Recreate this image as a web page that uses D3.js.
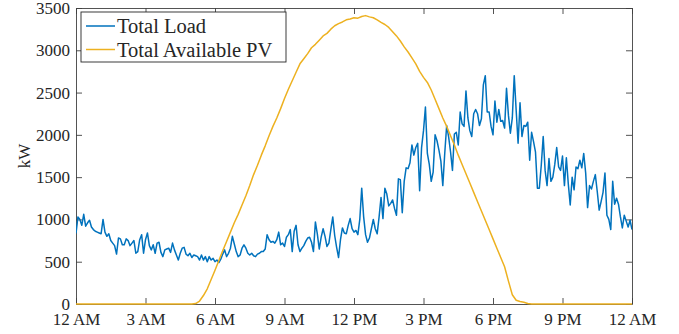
<!DOCTYPE html>
<html>
<head>
<meta charset="utf-8">
<script src="https://cdn.jsdelivr.net/npm/d3@7"></script>
<style>
  html, body { margin: 0; padding: 0; background: #fff; }
  svg { display: block; }
  text { font-family: "Liberation Serif", "Times New Roman", serif; fill: #262626; }
</style>
</head>
<body>
<svg id="chart" width="679" height="334"></svg>
<script>
// ---- data ----
// Total load, 5-minute samples from 00:00 to 24:00 (kW)
const loadStepMinutes = 5;
const totalLoad = [
  // 12 AM - 3 AM
  835,1030,1000,930,1060,920,960,990,910,880,860,850,840,830,1000,850,800,830,
  750,720,690,590,780,770,700,700,770,750,690,720,750,600,620,760,820,600,
  // 3 AM - 6 AM
  760,840,690,640,700,600,720,730,610,560,640,650,660,610,720,640,580,520,
  600,660,670,590,570,600,550,580,570,560,520,580,520,560,500,560,520,540,
  // 6 AM - 9 AM
  500,520,490,530,590,640,560,600,660,800,710,620,560,580,660,700,660,600,
  580,600,570,560,590,600,620,620,650,820,760,730,740,720,760,850,700,720,
  // 9 AM - 12 PM
  680,790,820,880,620,860,930,700,620,660,690,740,780,790,730,620,970,830,
  650,790,890,800,680,720,880,1030,810,670,550,760,900,840,830,930,1010,890,
  // 12 PM - 3 PM
  850,870,820,1000,1370,1030,820,730,780,890,1000,890,830,1030,1260,1010,1370,1300,
  1160,1190,1230,1130,1050,1480,1470,1080,1450,1610,1600,1670,1880,1760,1850,1900,1340,1850,
  // 3 PM - 6 PM
  2050,2330,1780,1650,1450,1560,2000,1930,1820,1690,1400,1780,2110,1980,1800,1580,2010,2030,
  1880,2270,2130,2100,2520,2200,2050,1980,2250,2300,2250,2110,2190,2590,2700,2270,2270,2100,
  // 6 PM - 9 PM
  2000,2400,2150,2300,2160,2170,2080,2550,2230,2020,2200,2700,2290,1900,2380,1980,2110,2100,
  2150,1700,2030,1920,1800,1370,1370,1640,1980,1580,1400,1720,1450,1500,1650,1850,1620,1580,
  // 9 PM - 12 AM
  1750,1400,1730,1420,1170,1500,1350,1620,1600,1700,1610,1780,1550,1140,1400,1360,1450,1530,
  1330,1110,1210,1320,1550,1050,1000,880,1450,1180,1250,1180,1030,900,1050,980,910,990,
  880
];
// Total available PV, 10-minute samples from 00:00 to 24:00 (kW)
const pvStepMinutes = 10;
const totalPV = [
  0,0,0,0,0,0,0,0,0,0,0,0,0,0,0,0,0,0,
  0,0,0,0,0,0,0,0,0,0,0,0,0,5,35,100,180,290,
  400,515,630,740,850,960,1060,1170,1280,1400,1530,1640,1760,1870,1990,2100,2200,2310,
  2430,2540,2640,2740,2840,2900,2960,3030,3070,3120,3170,3200,3250,3290,3315,3335,3360,3370,
  3385,3380,3400,3410,3395,3385,3360,3330,3305,3270,3220,3170,3110,3040,2980,2910,2840,2750,
  2680,2620,2530,2420,2310,2200,2100,1990,1880,1760,1650,1540,1430,1320,1210,1100,990,880,
  770,660,550,440,270,110,45,30,20,5,0,0,0,0,0,0,0,0,
  0,0,0,0,0,0,0,0,0,0,0,0,0,0,0,0,0,0,
  0
];
const xTickValues = [0,3,6,9,12,15,18,21,24];
const xTickLabels = ["12 AM","3 AM","6 AM","9 AM","12 PM","3 PM","6 PM","9 PM","12 AM"];
const yTickValues = [0,500,1000,1500,2000,2500,3000,3500];
const seriesNames = ["Total Load","Total Available PV"];
const seriesColors = ["#0072BD","#EDB120"];
const yLabel = "kW";

(function () {
const mLeft = 76, mRight = 632, mTop = 8, mBottom = 304;
const svg = d3.select("#chart");
svg.append("rect").attr("width",679).attr("height",334).attr("fill","#fff");

const x = d3.scaleLinear().domain([0,24]).range([mLeft,mRight]);
const y = d3.scaleLinear().domain([0,3500]).range([mBottom,mTop]);

const axisColor = "#404040";
const tickFont = 17;

function styleAxis(g) {
  g.select(".domain").attr("stroke", axisColor).attr("stroke-width", 0.9);
  g.selectAll(".tick line").attr("stroke", axisColor).attr("stroke-width", 0.9);
  g.selectAll(".tick text").attr("font-size", tickFont).attr("font-family", "Liberation Serif").attr("fill", "#262626");
}

svg.append("g").attr("transform", `translate(0,${mBottom})`)
  .call(d3.axisBottom(x).tickValues(xTickValues).tickFormat((d,i)=>xTickLabels[i]).tickSizeInner(-6).tickSizeOuter(0).tickPadding(9))
  .call(styleAxis);
svg.append("g").attr("transform", `translate(0,${mTop})`)
  .call(d3.axisTop(x).tickValues(xTickValues).tickFormat("").tickSizeInner(-6).tickSizeOuter(0))
  .call(styleAxis);
svg.append("g").attr("transform", `translate(${mLeft},0)`)
  .call(d3.axisLeft(y).tickValues(yTickValues).tickFormat(d3.format("d")).tickSizeInner(-6).tickSizeOuter(0).tickPadding(6))
  .call(styleAxis);
svg.append("g").attr("transform", `translate(${mRight},0)`)
  .call(d3.axisRight(y).tickValues(yTickValues).tickFormat("").tickSizeInner(-6).tickSizeOuter(0))
  .call(styleAxis);

svg.append("text")
  .attr("transform", `translate(30,${(mTop+mBottom)/2}) rotate(-90)`)
  .attr("text-anchor","middle")
  .attr("font-size", 17)
  .text(yLabel);

svg.append("clipPath").attr("id","plotclip").append("rect")
  .attr("x",mLeft).attr("y",mTop-2).attr("width",mRight-mLeft).attr("height",mBottom-mTop+3);

const plot = svg.append("g").attr("clip-path","url(#plotclip)");
const loadLine = d3.line().x((d,i)=>x(i*loadStepMinutes/60)).y(d=>y(d));
const pvLine = d3.line().x((d,i)=>x(i*pvStepMinutes/60)).y(d=>y(d));
plot.append("path").datum(totalLoad).attr("d",loadLine)
  .attr("fill","none").attr("stroke",seriesColors[0]).attr("stroke-width",1.5).attr("stroke-linejoin","round");
plot.append("path").datum(totalPV).attr("d",pvLine)
  .attr("fill","none").attr("stroke",seriesColors[1]).attr("stroke-width",1.5).attr("stroke-linejoin","round");

const lg = svg.append("g");
lg.append("rect").attr("x",81).attr("y",12).attr("width",205).attr("height",50)
  .attr("fill","#fff").attr("stroke","#262626").attr("stroke-width",0.9);
seriesNames.forEach((name,i)=>{
  const cy = 26 + i*23.5;
  lg.append("line").attr("x1",86).attr("x2",115).attr("y1",cy).attr("y2",cy)
    .attr("stroke",seriesColors[i]).attr("stroke-width",1.5);
  lg.append("text").attr("x",117).attr("y",cy).attr("dy","0.35em")
    .attr("font-size",20.5).attr("fill","#000").text(name);
});
})();
</script>
</body>
</html>
